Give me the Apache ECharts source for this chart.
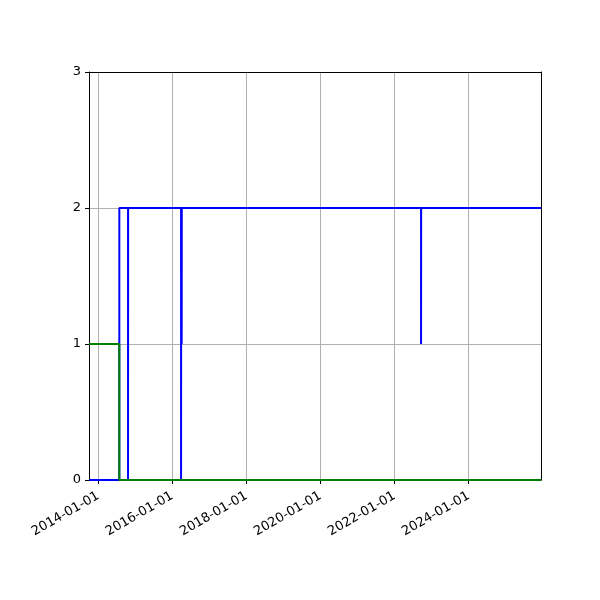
<!DOCTYPE html>
<html>
<head>
  <meta charset="utf-8">
  <title>step chart</title>
  <script src="https://cdn.jsdelivr.net/npm/echarts@6/dist/echarts.min.js"></script>
  <style>
    html, body { margin: 0; padding: 0; background: #ffffff; }
    #chart { width: 600px; height: 600px; }
  </style>
</head>
<body>
<div id="chart"></div>
<script>
  // x range of the plot
  var xMin = '2013-10-01';
  var xMax = '2025-12-15';

  // tick labels on the date axis
  var xTicks = ['2014-01-01', '2016-01-01', '2018-01-01', '2020-01-01', '2022-01-01', '2024-01-01'];
  var yTicks = [0, 1, 2, 3];

  // blue series (steps-post)
  var blueDates = ['2013-10-01', '2014-07-27', '2014-10-21', '2014-10-22', '2016-03-27', '2016-03-28',
                   '2016-04-02', '2016-04-03', '2022-09-19', '2022-09-20', '2025-12-15'];
  var blueValues = [0, 2, 0, 2, 0, 2, 1, 2, 1, 2, 2];

  // green series (steps-post)
  var greenDates = ['2013-10-01', '2014-07-27', '2025-12-15'];
  var greenValues = [1, 0, 0];

  function toTime(s) {
    var p = s.split('-');
    return Date.UTC(+p[0], +p[1] - 1, +p[2]);
  }
  function fmt(v) {
    var d = new Date(v);
    var m = d.getUTCMonth() + 1, day = d.getUTCDate();
    return d.getUTCFullYear() + '-' + (m < 10 ? '0' : '') + m + '-' + (day < 10 ? '0' : '') + day;
  }
  function pairs(dates, values) {
    return dates.map(function (d, i) { return [toTime(d), values[i]]; });
  }

  var chart = echarts.init(document.getElementById('chart'));
  var fontFam = 'DejaVu Sans';
  var tickTimes = xTicks.map(toTime);
  var black = { color: '#000000', width: 1 };

  chart.setOption({
    animation: false,
    grid: { left: 89, right: 59, top: 72, bottom: 120 },
    xAxis: [
      {
        type: 'value',
        min: toTime(xMin),
        max: toTime(xMax),
        axisLine: { show: true, onZero: false, lineStyle: black },
        axisTick: { show: true, inside: false, length: 4, lineStyle: black, customValues: tickTimes },
        axisLabel: {
          show: true,
          customValues: tickTimes,
          rotate: 30,
          color: '#000000',
          fontFamily: fontFam,
          fontSize: 13,
          margin: 15,
          hideOverlap: false,
          formatter: fmt
        },
        splitLine: { show: true, lineStyle: { color: '#b0b0b0', width: 1 } }
      },
      {
        // top frame line
        type: 'value',
        position: 'top',
        min: toTime(xMin),
        max: toTime(xMax),
        axisLine: { show: true, onZero: false, lineStyle: black },
        axisTick: { show: false },
        axisLabel: { show: false },
        splitLine: { show: false },
        z: 5
      }
    ],
    yAxis: [
      {
        type: 'value',
        min: yTicks[0],
        max: yTicks[yTicks.length - 1],
        interval: 1,
        axisLine: { show: true, onZero: false, lineStyle: black },
        axisTick: { show: true, inside: false, length: 4, lineStyle: black },
        axisLabel: { color: '#000000', fontFamily: fontFam, fontSize: 13, margin: 8 },
        splitLine: { show: true, lineStyle: { color: '#b0b0b0', width: 1 } }
      },
      {
        // right frame line
        type: 'value',
        position: 'right',
        min: yTicks[0],
        max: yTicks[yTicks.length - 1],
        interval: 1,
        axisLine: { show: true, onZero: false, lineStyle: black },
        axisTick: { show: false },
        axisLabel: { show: false },
        splitLine: { show: false },
        z: 5
      }
    ],
    series: [
      {
        name: 'blue',
        type: 'line',
        step: 'end',
        showSymbol: false,
        data: pairs(blueDates, blueValues),
        lineStyle: { color: '#0000ff', width: 2 },
        itemStyle: { color: '#0000ff' },
        z: 2
      },
      {
        name: 'green',
        type: 'line',
        step: 'end',
        showSymbol: false,
        data: pairs(greenDates, greenValues),
        lineStyle: { color: '#008000', width: 2 },
        itemStyle: { color: '#008000' },
        z: 3
      }
    ]
  });
</script>
</body>
</html>
